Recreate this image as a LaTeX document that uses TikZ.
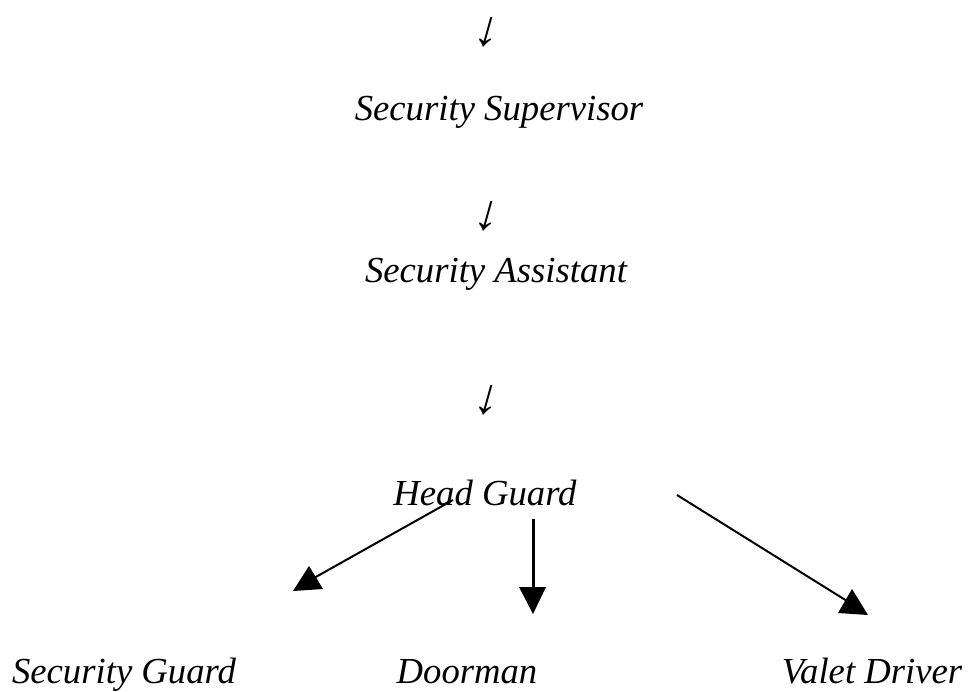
\documentclass[tikz,border=0pt]{standalone}
\usepackage{fontspec}
\setmainfont{Liberation Serif}
\begin{document}
\begin{tikzpicture}[x=1pt,y=-1pt,
  lbl/.style={font=\fontsize{36.7}{40}\selectfont\itshape, inner sep=0pt, anchor=base},
  glyph/.style={font=\fontsize{50}{52}\selectfont\bfseries, inner sep=0pt, anchor=base, xslant=0.28, transform shape},
  conn/.style={line width=2pt},
  head/.style={fill=black}]
\useasboundingbox (0,0) rectangle (969,691);
% glyph arrows
\node[glyph] (g1) at (484,45) {↓};
\node[lbl] (sup) at (499,120) {Security Supervisor};
\node[glyph] (g2) at (484,229) {↓};
\node[lbl] (asst) at (496,282) {Security Assistant};
\node[glyph] (g3) at (484,413) {↓};
\node[lbl] (head) at (485,505) {Head Guard};
\node[lbl] (sg) at (124,683) {Security Guard};
\node[lbl] (door) at (467,683) {Doorman};
\node[lbl] (valet) at (872,683) {Valet Driver};
% connectors
\coordinate (l0) at (453,500);
\coordinate (l1) at (314,578);
\coordinate (m0) at (533,519);
\coordinate (m1) at (533,590);
\coordinate (r0) at (677,495);
\coordinate (r1) at (847,601);
\draw[conn] (l0) -- (l1);
\fill[head] (309,566) -- (293,591) -- (323,589) -- cycle;
\draw[line width=3pt] (m0) -- (m1);
\fill[head] (519,587) -- (546,587) -- (533,614) -- cycle;
\draw[conn] (r0) -- (r1);
\fill[head] (852,589) -- (838,613) -- (868,615) -- cycle;
\end{tikzpicture}
\end{document}
